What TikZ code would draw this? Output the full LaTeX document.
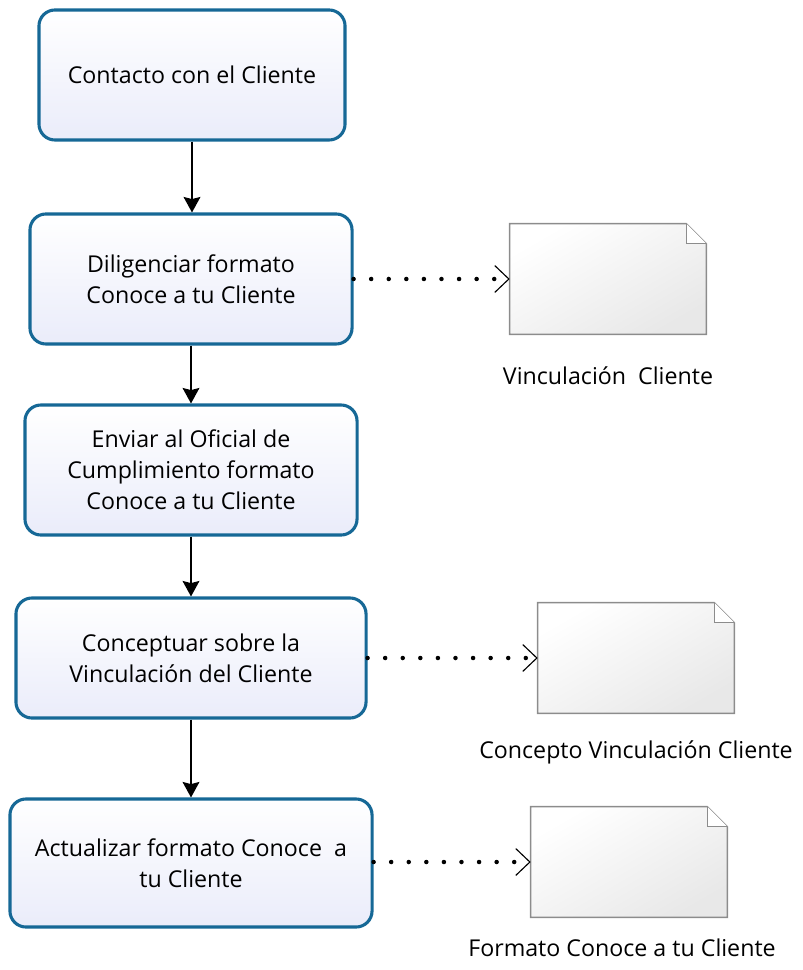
\documentclass[tikz,border=0pt]{standalone}
\usepackage{fontspec}
\setmainfont{Open Sans}
\usepackage{tikz}
\usetikzlibrary{positioning,arrows.meta}
\definecolor{procblue}{RGB}{22,104,150}
\definecolor{procfill}{RGB}{234,236,250}
\definecolor{docgray}{RGB}{140,140,140}
\definecolor{docfill}{RGB}{232,232,232}
\tikzset{
  proc/.style={draw=procblue,line width=2.2pt,rounded corners=0.4cm,top color=white,bottom color=procfill,
    align=center,font=\fontsize{16.5}{22}\selectfont,inner sep=4pt},
  doc/.style={minimum width=4.9cm,minimum height=2.75cm,inner sep=0pt},
  flow/.style={thick,-{Stealth[length=11pt,width=12pt,inset=1.5pt]}},
  dep/.style={line width=3.2pt,line cap=round,dash pattern=on 0pt off 12.5pt,
    -{Straight Barb[line width=0.8pt,length=10pt,width=19pt]}},
  dlab/.style={font=\fontsize{16.5}{20}\selectfont}
}
\newcommand{\docicon}[1]{%
  \draw[docgray,line width=1.1pt,top color=white,bottom color=docfill,shading angle=30]
    (#1.south west) -- (#1.north west) -- ([xshift=-0.5cm]#1.north east)
    -- ([yshift=-0.5cm]#1.north east) -- (#1.south east) -- cycle;
  \draw[docgray,line width=1.1pt,fill=white] ([xshift=-0.5cm]#1.north east) -- ([xshift=-0.5cm,yshift=-0.5cm]#1.north east)
    -- ([yshift=-0.5cm]#1.north east);
}
\begin{document}
\begin{tikzpicture}[x=0.025cm,y=-0.025cm]
  \useasboundingbox (0,0) rectangle (802,970);
  % process steps
  \node[proc,minimum width=7.65cm,minimum height=3.25cm] (contacto) at (192,75) {Contacto con el Cliente};
  \node[proc,minimum width=8.05cm,minimum height=3.25cm] (diligenciar) at (191,279) {Diligenciar formato\\Conoce a tu Cliente};
  \node[proc,minimum width=8.3cm,minimum height=3.25cm] (enviar) at (191,470) {Enviar al Oficial de\\Cumplimiento formato\\Conoce a tu Cliente};
  \node[proc,minimum width=8.75cm,minimum height=3.0cm] (conceptuar) at (191,658) {Conceptuar sobre la\\Vinculación del Cliente};
  \node[proc,minimum width=9.05cm,minimum height=3.2cm] (actualizar) at (191,863) {Actualizar formato Conoce\ \ a\\tu Cliente};
  \draw[flow] (contacto.south) -- (contacto.south |- diligenciar.north);
  \draw[flow] (diligenciar) -- (enviar);
  \draw[flow] (enviar) -- (conceptuar);
  \draw[flow] (conceptuar) -- (actualizar);
  % documents
  \node[doc] (vinc) at (608,279) {}; \docicon{vinc}
  \node[doc] (concepto) at (636,658) {}; \docicon{concepto}
  \node[doc] (formato) at (629,862) {}; \docicon{formato}
  \node[dlab] (vinclab) at (608,376) {Vinculación\ \ Cliente};
  \node[dlab] (conceptolab) at (636,752) {Concepto Vinculación Cliente};
  \node[dlab] (formatolab) at (622,948) {Formato Conoce a tu Cliente};
  \draw[dep] (diligenciar.east) -- (vinc.west);
  \draw[dep] (conceptuar.east) -- (concepto.west);
  \draw[dep] (actualizar.east |- formato.west) -- (formato.west);
\end{tikzpicture}
\end{document}
